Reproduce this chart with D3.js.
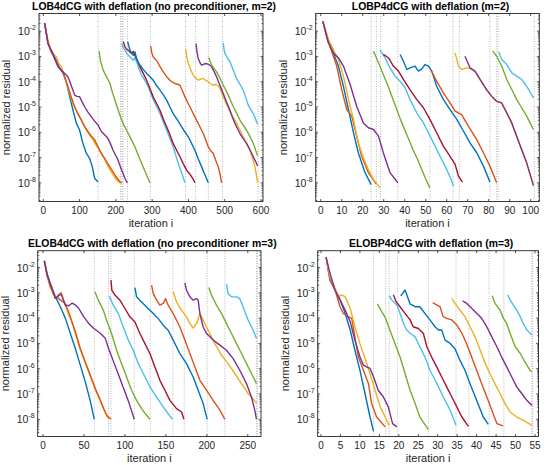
<!DOCTYPE html>
<html><head><meta charset="utf-8">
<script src="https://cdn.jsdelivr.net/npm/d3@7"></script>
<style>
body{margin:0;background:#fff;}
svg{display:block;font-family:"Liberation Sans",Arial,Helvetica,sans-serif;}
</style></head><body>
<svg id="chart" width="547" height="465"></svg>
<script>
// ---------------- DATA ----------------
// Each curve: list of [iteration, log10(normalized residual)]
const titles = [
  "LOB4dCG with deflation (no preconditioner, m=2)",
  "LOBP4dCG with deflation (m=2)",
  "ELOB4dCG with deflation (no preconditioner m=3)",
  "ELOBP4dCG with deflation (m=3)"
];
const xLabel = "iteration i";
const yLabel = "normalized residual";
const yTickExponents = [-8, -7, -6, -5, -4, -3, -2];
const xTicksA = [0, 100, 200, 300, 400, 500, 600];
const xTicksB = [0, 10, 20, 30, 40, 50, 60, 70, 80, 90, 100];
const xTicksC = [0, 50, 100, 150, 200, 250];
const xTicksD = [0, 5, 10, 15, 20, 25, 30, 35, 40, 45, 50, 55];

// Panel A: LOB4dCG
const curvesA = [
  [[3.7,-1.70],[12.9,-2.42],[22,-2.82],[35.8,-3.14],[45,-3.47],[54,-3.65],[63.4,-4.0],[72.6,-4.59],[81.8,-5.12],[91,-5.64],[100,-5.91],[109,-6.43],[118.5,-6.83],[127.7,-7.03],[135,-7.36],[141.5,-7.82],[150.7,-7.97]],
  [[3.7,-1.70],[12.9,-2.36],[20,-2.70],[26.6,-2.88],[35.8,-3.01],[42,-3.25],[49.6,-3.41],[56,-3.68],[63.4,-4.0],[72,-4.45],[81.8,-4.86],[90,-5.10],[100,-5.38],[110,-5.68],[118.5,-5.91],[128,-6.12],[137,-6.30],[144,-6.48],[151,-6.63],[158,-6.80],[165,-6.96],[172,-7.15],[178.6,-7.36],[185,-7.52],[192.4,-7.68],[200,-7.85],[207,-7.95],[213,-8.0]],
  [[3.7,-1.70],[12.9,-2.49],[20,-2.75],[26.6,-2.95],[33,-3.15],[40.4,-3.34],[47,-3.50],[54.2,-3.61],[61,-3.90],[68,-4.20],[77,-4.60],[86.4,-4.99],[95,-5.27],[104.7,-5.51],[114,-5.78],[123,-5.97],[132,-6.15],[141.5,-6.30],[148,-6.50],[155.3,-6.70],[162,-6.88],[169,-7.03],[176,-7.20],[183,-7.36],[190,-7.52],[196.7,-7.68],[205,-7.85],[211,-7.95],[216.8,-8.0]],
  [[3.7,-1.67],[12.9,-2.49],[20,-2.70],[26.6,-2.88],[33,-3.15],[40.4,-3.41],[47,-3.50],[54.2,-3.61],[61,-3.70],[68,-3.80],[77,-4.15],[86.4,-4.53],[93,-4.58],[100,-4.59],[107,-4.80],[114,-4.99],[123,-5.20],[132.3,-5.38],[141,-5.55],[150.7,-5.71],[160,-5.97],[169,-6.10],[178,-6.24],[185,-6.45],[192,-6.70],[199,-6.90],[205.8,-7.09],[212,-7.35],[219.6,-7.62],[226,-7.85],[231.5,-8.0]],
  [[153.4,-2.78],[158,-3.2],[165,-3.54],[174,-3.80],[183.8,-4.07],[190,-4.40],[197.5,-4.73],[207,-5.15],[216,-5.52],[225,-5.80],[234.3,-6.05],[243,-6.30],[252.7,-6.58],[262,-6.92],[271,-7.23],[282,-7.60],[288,-7.80],[294,-8.0]],
  [[216,-2.49],[220,-2.65],[225,-2.75],[230,-2.88],[234.3,-2.95],[241,-3.05],[248,-3.15],[253,-3.05],[258,-3.25],[264,-3.50],[271,-3.74],[280,-3.95],[289.4,-4.20],[298,-4.52],[307.8,-4.86],[315,-5.05],[321.6,-5.26],[331,-5.60],[340,-5.92],[349,-6.25],[358,-6.58],[365,-6.90],[372,-7.23],[380,-7.55],[386,-7.80],[390.5,-8.0]],
  [[220.5,-2.42],[225,-2.62],[230,-2.72],[234,-2.75],[240,-2.85],[243.5,-2.88],[248,-2.80],[252,-2.95],[257,-3.08],[262,-3.25],[266.4,-3.41],[275,-3.65],[284.8,-3.94],[294,-4.28],[303,-4.6],[312,-4.85],[321.6,-5.13],[330,-5.45],[340,-5.78],[349,-6.10],[358,-6.44],[367,-6.70],[376.7,-6.97],[386,-7.25],[395,-7.5],[402,-7.62],[408.8,-7.76],[414,-7.88],[418,-8.0]],
  [[232.5,-2.42],[236,-2.60],[239,-2.75],[244,-2.88],[248,-2.95],[252.7,-2.82],[257,-3.08],[262,-3.25],[266.4,-3.34],[275,-3.50],[284.8,-3.67],[294,-3.80],[303,-3.94],[312,-4.15],[321.6,-4.33],[331,-4.52],[340,-4.73],[349,-5.00],[358,-5.26],[370,-5.52],[381,-5.78],[390,-5.98],[399.7,-6.18],[409,-6.45],[418,-6.71],[427,-7.05],[436.4,-7.37],[446,-7.70],[454.8,-8.0]],
  [[295.8,-2.58],[299,-2.85],[303,-3.02],[308,-3.10],[312,-3.15],[321,-3.38],[330.8,-3.61],[340,-3.80],[349,-3.94],[356,-4.02],[362.9,-4.07],[370,-4.10],[376.7,-4.14],[383,-4.35],[390.5,-4.60],[400,-4.88],[408.8,-5.13],[418,-5.40],[427,-5.65],[434,-5.85],[441,-6.05],[448,-6.32],[454.8,-6.58],[461,-6.72],[468.6,-6.84],[475,-7.10],[482.4,-7.37],[487,-7.65],[491.6,-8.0]],
  [[392.3,-2.73],[396,-3.05],[399.7,-3.28],[406,-3.52],[413.4,-3.74],[420,-3.85],[427,-3.94],[434,-3.90],[441,-3.87],[448,-3.95],[454.8,-4.0],[461,-4.08],[468.6,-4.14],[476,-4.10],[481,-4.15],[487,-4.27],[493,-4.50],[500,-4.73],[507,-4.95],[514.5,-5.19],[524,-5.42],[533,-5.65],[542,-5.92],[551,-6.18],[560,-6.45],[569.4,-6.71],[576,-7.0],[583.4,-7.37],[587,-7.65],[590.8,-8.0]],
  [[420.8,-2.49],[424,-2.85],[427,-3.08],[432,-3.25],[436.4,-3.34],[443,-3.30],[450,-3.28],[457,-3.32],[464,-3.41],[471,-3.60],[477.8,-3.81],[487,-4.14],[496,-4.47],[505,-4.80],[514.5,-5.13],[521,-5.40],[528.3,-5.65],[535,-5.85],[542,-6.05],[551,-6.25],[560.5,-6.44],[570,-6.70],[578.8,-6.97],[585,-7.15],[590.8,-7.33]],
  [[456.6,-3.04],[460,-3.20],[464,-3.34],[471,-3.48],[477.8,-3.61],[485,-3.80],[491.5,-4.0],[500,-4.25],[510,-4.53],[517,-4.76],[523.7,-4.99],[533,-5.25],[542,-5.52],[551,-5.72],[560.5,-5.92],[570,-6.18],[578.8,-6.44],[585,-6.70],[590.8,-6.92]],
  [[496,-2.45],[498,-2.70],[500.7,-2.88],[507,-3.05],[514.5,-3.21],[519,-3.38],[523.7,-3.54],[530,-3.78],[537.5,-4.0],[544,-4.15],[551,-4.33],[558,-4.62],[565,-4.93],[572,-5.10],[578.8,-5.26],[585,-5.48],[590.8,-5.68]]
];
const colorKeysA = ["B","Y","O","P","G","C","R","B","O","Y","P","G","C"];
const deflationA = [151, 213, 217, 220, 232, 295, 392, 420, 455, 494, 592];

// Panel B: LOBP4dCG
const curvesB = [
  [[1,-1.60],[3.7,-2.46],[6,-2.86],[8.4,-3.38],[10.8,-4.18],[13.2,-5.10],[15.6,-6.02],[17.9,-6.81],[21.1,-7.60],[24,-8.07]],
  [[1,-1.60],[2.9,-2.26],[5.2,-2.79],[7.6,-3.38],[10,-4.31],[12.4,-5.10],[14.8,-5.36],[17.1,-6.15],[19.5,-6.95],[22.7,-7.60],[26.3,-8.04]],
  [[1,-1.60],[3.7,-2.33],[6,-2.73],[8.4,-3.12],[10.8,-3.78],[13.2,-4.70],[15.6,-5.49],[17.9,-6.42],[20.3,-7.01],[22.7,-7.47],[25.1,-7.87],[28.3,-8.2]],
  [[1,-1.60],[3.7,-2.46],[6,-2.86],[8.4,-3.05],[10.8,-3.38],[14,-4.11],[17.1,-4.97],[20.3,-5.63],[22.7,-5.82],[25.1,-5.89],[27.5,-6.15],[29.8,-6.81],[33,-7.60],[36.7,-8.0]],
  [[25.1,-2.79],[26.5,-3.05],[28,-3.35],[30,-3.75],[32,-4.15],[34,-4.60],[36,-5.05],[38,-5.50],[40,-5.90],[42,-6.30],[44,-6.70],[46,-7.05],[48,-7.45],[50,-7.85],[52,-8.2]],
  [[28.3,-2.75],[30.6,-3.05],[33,-3.45],[35.4,-3.78],[37.8,-3.98],[40.2,-4.24],[42.5,-4.70],[45.7,-5.23],[48.9,-5.63],[51.3,-6.02],[53.7,-6.42],[56.8,-6.95],[60,-7.47],[62.4,-7.93],[63.2,-8.13]],
  [[29.8,-2.92],[32.2,-3.05],[34.6,-3.38],[37,-3.58],[39.4,-3.91],[42.5,-4.31],[45.7,-4.70],[48.9,-5.03],[52,-5.49],[55.2,-6.02],[58.4,-6.55],[61.6,-6.95],[64,-7.27],[65.6,-7.74],[67.5,-7.97]],
  [[37.8,-2.92],[39.4,-3.19],[41,-3.52],[42.5,-3.45],[44.9,-3.38],[46.5,-3.58],[48,-3.50],[49.7,-3.32],[51.3,-3.38],[52.9,-3.58],[55.2,-4.18],[58.4,-4.70],[61.6,-5.10],[64.8,-5.49],[68,-5.96],[71.1,-6.42],[74.3,-6.81],[77.5,-7.34],[80.6,-7.97]],
  [[52.5,-3.54],[55.2,-3.98],[58.4,-4.44],[61.6,-4.84],[64,-5.16],[67.1,-5.30],[70.3,-5.76],[74.3,-6.29],[77.5,-6.81],[80.6,-7.34],[83.8,-8.0]],
  [[64,-2.86],[65.6,-3.38],[67.1,-3.52],[69.5,-3.45],[71.1,-3.47],[73.5,-3.60],[75.9,-3.93],[79,-4.33],[81.4,-4.59],[83.8,-4.79],[86.2,-4.86],[88.6,-5.25],[91,-5.65],[93.3,-6.17],[95.7,-6.70],[98.1,-7.23],[101.3,-8.12]],
  [[68.7,-2.99],[71.1,-3.45],[73.5,-3.58],[75.9,-3.91],[79,-4.31],[81.4,-4.57],[83.8,-4.77],[86.2,-4.84],[88.6,-5.23],[91,-5.63],[93.3,-6.15],[95.7,-6.68],[98.1,-7.21],[101.3,-8.1]],
  [[81.9,-2.79],[83.8,-2.99],[86.2,-3.38],[88.6,-3.91],[91,-4.31],[93.3,-4.70],[95.7,-5.03],[98.1,-5.36],[99.7,-5.63],[101.3,-5.89]],
  [[84.8,-2.82],[86.2,-3.12],[88.6,-3.32],[91,-3.65],[93.3,-3.78],[95.7,-3.91],[98.1,-4.18],[101.3,-4.64]]
];
const colorKeysB = ["B","O","Y","P","G","C","R","B","O","Y","P","G","C"];
const deflationB = [24, 26.5, 28.5, 36.7, 52, 63, 66, 80.6, 83.8, 84.5, 101.7];

// Panel C: ELOB4dCG
const curvesC = [
  [[1.6,-1.74],[4.9,-2.22],[8,-2.55],[11,-2.82],[15,-3.15],[21.1,-3.55],[27.2,-4.0],[33.3,-4.60],[39.4,-5.20],[45.5,-5.86],[51.6,-6.52],[57.5,-7.25],[62.6,-8.0]],
  [[1.6,-1.74],[5,-2.35],[9,-2.8],[13,-3.1],[16,-3.2],[19,-3.05],[22,-2.98],[25,-3.25],[28,-3.55],[31,-3.85],[34,-4.05],[39.4,-4.60],[45.5,-5.25],[51.6,-5.78],[57.7,-6.30],[63.8,-6.82],[69.9,-7.28],[74,-7.60],[78,-7.88],[81,-8.0]],
  [[1.6,-1.74],[5,-2.3],[9,-2.75],[12,-2.95],[15,-3.2],[18,-3.2],[22,-3.3],[26,-3.4],[30,-3.65],[33.3,-3.94],[39.4,-4.54],[45.5,-5.20],[51.6,-5.73],[57.7,-6.25],[63.8,-6.78],[69.9,-7.24],[74,-7.57],[78,-7.85],[82.9,-8.0]],
  [[1.6,-1.74],[4.9,-2.29],[11,-2.82],[15,-3.22],[22,-3.04],[27.2,-3.48],[31.3,-3.51],[35.4,-3.41],[39.4,-3.48],[43.5,-3.61],[49.6,-3.94],[55.7,-4.21],[61.8,-4.40],[69.9,-4.60],[76,-4.80],[80,-5.20],[86.2,-5.73],[92.3,-6.25],[98.4,-6.78],[104.5,-7.31],[111.4,-8.0]],
  [[63.4,-2.96],[67.5,-3.29],[73.6,-3.69],[77.6,-4.08],[83.7,-4.61],[89.8,-5.27],[95.9,-5.80],[102,-6.33],[108.1,-6.85],[114.2,-7.25],[120.3,-7.58],[125,-7.78],[130.5,-8.0]],
  [[80.9,-3.13],[85.8,-3.49],[91.9,-3.82],[98,-4.35],[104.1,-4.87],[110.2,-5.27],[116.3,-5.80],[122.4,-6.19],[130.5,-6.72],[138.6,-7.12],[146.7,-7.51],[152.8,-7.78],[158.1,-8.0]],
  [[82.9,-2.50],[84.1,-2.90],[87.8,-3.09],[93.9,-3.29],[100,-3.62],[106.1,-3.95],[112.2,-4.15],[118.3,-4.61],[124.4,-5.01],[130.5,-5.40],[136.6,-5.93],[142.7,-6.46],[148.8,-6.85],[154.9,-7.25],[163,-7.58],[169.1,-7.71],[172,-8.0]],
  [[112.2,-2.79],[114.2,-3.16],[120.3,-3.36],[126.4,-3.56],[134.6,-3.82],[140.7,-4.02],[146.7,-4.28],[152.8,-4.48],[158.9,-4.87],[167.1,-5.40],[175.2,-5.80],[183.3,-6.33],[189.4,-6.85],[195.5,-7.38],[200.4,-8.0]],
  [[132.5,-2.70],[134.6,-3.03],[138.6,-3.29],[142.7,-3.49],[146.7,-3.42],[149.6,-3.23],[152.8,-3.49],[158.9,-3.82],[167.1,-4.35],[173.2,-4.87],[179.3,-5.40],[185.4,-5.93],[191.5,-6.46],[199.6,-6.85],[207.7,-7.25],[215.9,-7.64],[222,-8.0]],
  [[158.9,-2.96],[163,-3.36],[169.1,-3.69],[175.2,-3.95],[179.3,-4.22],[183.3,-4.39],[187.4,-4.22],[191.5,-3.82],[193.5,-3.95],[201.6,-4.48],[209.8,-5.01],[217.9,-5.47],[226,-5.80],[234.1,-6.19],[242.3,-6.59],[250.4,-6.98],[260.6,-7.35]],
  [[173.2,-2.61],[175.2,-2.90],[179.3,-3.16],[183.3,-3.29],[187.4,-3.23],[189.4,-3.29],[191.5,-3.82],[195.5,-4.35],[199.6,-4.61],[207.7,-4.87],[215.9,-5.07],[224,-5.27],[232.1,-5.60],[240.2,-6.06],[248.4,-6.59],[254.5,-7.12],[258.5,-7.64],[260.6,-8.0]],
  [[202.4,-2.79],[205.7,-3.09],[211.8,-3.49],[217.9,-3.82],[224,-4.22],[230.1,-4.61],[236.2,-5.01],[242.3,-5.40],[248.4,-5.80],[254.5,-6.19],[260.6,-6.59]],
  [[224,-2.66],[226,-3.03],[230.1,-3.16],[236.2,-3.16],[240.2,-3.23],[244.3,-3.56],[250.4,-4.08],[256.5,-4.48],[260.6,-4.81]]
];
const colorKeysC = ["B","Y","O","P","G","C","R","B","O","Y","P","G","C"];
const deflationC = [62.6, 80, 83, 111.4, 131, 158.5, 172.4, 200.4, 222, 260.6, 262];

// Panel D: ELOBP4dCG
const curvesD = [
  [[1.3,-1.59],[2.3,-2.49],[3.6,-2.89],[4.9,-3.28],[6.2,-3.81],[7.5,-4.47],[8.7,-5.26],[10,-6.06],[11.3,-6.98],[12.6,-7.91],[13.5,-8.48]],
  [[1.3,-1.59],[2.3,-2.49],[3.6,-2.89],[4.9,-3.55],[5.7,-3.81],[7,-3.94],[7.9,-4.01],[8.7,-4.74],[9.6,-5.53],[10.9,-6.06],[12.2,-6.59],[13,-7.38],[14.3,-7.91],[16.5,-8.30]],
  [[1.3,-1.59],[2.3,-2.36],[3.6,-2.82],[4.5,-3.15],[5.3,-3.08],[6.2,-3.15],[7.5,-3.61],[8.7,-4.34],[10,-5.0],[11.3,-5.59],[12.6,-6.19],[13.9,-6.85],[15.2,-7.51],[16.5,-7.91],[17.5,-8.24]],
  [[1.3,-1.59],[2.3,-2.22],[3.6,-2.89],[4.9,-3.28],[6.2,-3.68],[7.5,-4.14],[8.7,-4.87],[10,-5.53],[10.9,-5.86],[11.7,-5.93],[12.6,-5.99],[13.5,-6.32],[14.7,-6.85],[16,-7.11],[17.3,-7.51],[18.4,-8.17],[19.5,-8.30]],
  [[14.5,-3.44],[15.6,-3.74],[16.5,-3.97],[17.7,-4.47],[19,-5.0],[20.3,-5.53],[21.6,-6.19],[22.9,-6.85],[24.2,-7.38],[25.4,-7.91],[27.6,-8.41]],
  [[17.5,-3.11],[18.2,-3.28],[19.5,-3.48],[20.3,-3.81],[21.2,-4.21],[22,-4.47],[22.9,-4.60],[24.2,-4.74],[25.4,-5.13],[26.7,-5.53],[28,-6.06],[29.8,-6.59],[31.4,-7.11],[33.2,-7.64],[34.7,-8.24]],
  [[18.6,-3.08],[19.3,-3.35],[20.3,-3.55],[21.6,-3.81],[22.9,-4.07],[23.7,-4.34],[25,-4.41],[26.3,-4.60],[27.2,-5.13],[28.4,-5.53],[29.7,-5.92],[31,-6.32],[32.3,-6.72],[33.6,-7.11],[34.9,-7.51],[36.2,-7.91],[37.9,-8.28]],
  [[20.5,-3.12],[21.6,-2.89],[22.9,-3.44],[24.2,-3.55],[25.4,-3.55],[26.7,-3.81],[28,-4.07],[29.3,-4.34],[30.2,-4.47],[31,-4.47],[31.9,-4.87],[33.2,-5.0],[34.4,-5.20],[35.7,-5.66],[37,-6.06],[38.3,-6.59],[40,-7.25],[41.7,-7.91],[43,-8.20]],
  [[28.7,-3.39],[29.7,-3.48],[30.6,-3.55],[31.4,-3.94],[32.3,-4.01],[33.6,-4.07],[34.9,-4.27],[36.2,-4.60],[37.4,-5.0],[38.7,-5.53],[40,-6.06],[41.3,-6.59],[42.6,-7.11],[43.9,-7.64],[45.2,-8.17],[46.8,-8.26]],
  [[33.6,-3.22],[34.4,-3.41],[35.7,-3.68],[37,-3.94],[38.3,-4.34],[39.6,-4.74],[40.9,-5.26],[42.2,-5.79],[43.4,-6.19],[44.7,-6.59],[46,-6.98],[47.3,-7.38],[48.6,-7.71],[50.3,-7.91],[52,-8.04],[54.2,-8.24]],
  [[36.4,-3.32],[37.4,-3.41],[38.7,-3.61],[40,-3.81],[41.3,-4.01],[42.6,-4.34],[43.9,-4.74],[45.2,-5.13],[46.4,-5.53],[47.7,-5.92],[49,-6.32],[50.3,-6.72],[51.6,-6.98],[52.9,-7.25],[54.2,-7.45]],
  [[44,-3.12],[44.7,-3.41],[46,-3.68],[46.9,-4.01],[47.7,-4.21],[48.6,-4.60],[49.9,-5.13],[51.2,-5.40],[52.4,-5.73],[53.7,-6.06],[54.2,-6.12]],
  [[48,-3.08],[48.6,-3.28],[49.4,-3.48],[50.3,-3.68],[51.2,-3.94],[52,-4.21],[52.9,-4.47],[54.2,-4.67]]
];
const colorKeysD = ["B","O","Y","P","G","C","R","B","O","Y","P","G","C"];
const deflationD = [13.5, 16.6, 17.5, 19.7, 27.6, 34.7, 38, 43.2, 47, 54.2, 54.4];

// ---------------- STYLE / LAYOUT ----------------
const palette = {B:"#0072BD", O:"#D95319", Y:"#EDB120", P:"#7E2F8E", G:"#77AC30", C:"#4DBEEE", R:"#A2142F"};
const axisColor = "#262626";

const panels = [
  {title: titles[0], curves: curvesA, keys: colorKeysA, defl: deflationA, xticks: xTicksA,
   box: {x0: 39, x1: 263, y0: 13.5, y1: 201.5}, xdom: [-11.85, 605.6], ydom: [-8.74, -1.30]},
  {title: titles[1], curves: curvesB, keys: colorKeysB, defl: deflationB, xticks: xTicksB,
   box: {x0: 315.7, x1: 539.3, y0: 13.5, y1: 201.5}, xdom: [-2.4, 104.1], ydom: [-8.74, -1.30]},
  {title: titles[2], curves: curvesC, keys: colorKeysC, defl: deflationC, xticks: xTicksC,
   box: {x0: 37.7, x1: 261, y0: 250.7, y1: 436.5}, xdom: [-6.5, 266.1], ydom: [-8.68, -1.335]},
  {title: titles[3], curves: curvesD, keys: colorKeysD, defl: deflationD, xticks: xTicksD,
   box: {x0: 317.7, x1: 538.5, y0: 250.7, y1: 436.5}, xdom: [-0.85, 55.9], ydom: [-8.68, -1.335]}
];

const svg = d3.select("#chart");

panels.forEach((p, pi) => {
  const b = p.box;
  const x = d3.scaleLinear().domain(p.xdom).range([b.x0, b.x1]);
  const y = d3.scaleLog().domain([Math.pow(10, p.ydom[0]), Math.pow(10, p.ydom[1])]).range([b.y1, b.y0]);
  const g = svg.append("g");
  const clipId = "clip" + pi;
  g.append("clipPath").attr("id", clipId).append("rect")
    .attr("x", b.x0).attr("y", b.y0).attr("width", b.x1 - b.x0).attr("height", b.y1 - b.y0);

  // deflation markers
  g.append("g").selectAll("line").data(p.defl).join("line")
    .attr("x1", d => x(d)).attr("x2", d => x(d))
    .attr("y1", b.y0).attr("y2", b.y1)
    .attr("stroke", "#9a9a9a").attr("stroke-width", 0.7)
    .attr("stroke-dasharray", "1,1.5");

  // curves
  const line = d3.line().x(d => x(d[0])).y(d => y(Math.pow(10, d[1]))).curve(d3.curveLinear);
  g.append("g").attr("clip-path", `url(#${clipId})`)
    .selectAll("path").data(p.curves).join("path")
    .attr("d", line)
    .attr("fill", "none")
    .attr("stroke", (d, i) => palette[p.keys[i]])
    .attr("stroke-width", 1.4)
    .attr("stroke-linejoin", "round");

  // frame
  g.append("rect").attr("x", b.x0).attr("y", b.y0)
    .attr("width", b.x1 - b.x0).attr("height", b.y1 - b.y0)
    .attr("fill", "none").attr("stroke", axisColor).attr("stroke-width", 0.9);

  // x axis ticks (inward, bottom and top) + labels
  const xt = g.append("g");
  p.xticks.forEach(t => {
    const px = x(t);
    xt.append("line").attr("x1", px).attr("x2", px).attr("y1", b.y1).attr("y2", b.y1 - 2.5)
      .attr("stroke", axisColor).attr("stroke-width", 0.8);
    xt.append("line").attr("x1", px).attr("x2", px).attr("y1", b.y0).attr("y2", b.y0 + 2.5)
      .attr("stroke", axisColor).attr("stroke-width", 0.8);
    xt.append("text").attr("x", px).attr("y", b.y1 + 12)
      .attr("text-anchor", "middle").attr("font-size", 10).attr("fill", axisColor).text(t);
  });

  // y axis: major + minor ticks
  const yt = g.append("g");
  const lo = Math.floor(p.ydom[0]), hi = Math.ceil(p.ydom[1]);
  for (let e = lo; e <= hi; e++) {
    for (let m = 1; m <= 9; m++) {
      const v = m * Math.pow(10, e);
      const lv = Math.log10(v);
      if (lv < p.ydom[0] || lv > p.ydom[1]) continue;
      const py = y(v);
      const len = m === 1 ? 2.5 : 1.5;
      yt.append("line").attr("x1", b.x0).attr("x2", b.x0 + len).attr("y1", py).attr("y2", py)
        .attr("stroke", axisColor).attr("stroke-width", 0.7);
      yt.append("line").attr("x1", b.x1).attr("x2", b.x1 - len).attr("y1", py).attr("y2", py)
        .attr("stroke", axisColor).attr("stroke-width", 0.7);
    }
  }
  yTickExponents.forEach(e => {
    const py = y(Math.pow(10, e));
    const t = yt.append("text").attr("x", b.x0 - 3).attr("y", py + 4)
      .attr("text-anchor", "end").attr("fill", axisColor);
    t.append("tspan").attr("font-size", 10.5).text("10");
    t.append("tspan").attr("font-size", 7).attr("dy", -5).text(String(e));
  });

  // labels
  g.append("text").attr("x", (b.x0 + b.x1) / 2).attr("y", b.y1 + 25)
    .attr("text-anchor", "middle").attr("font-size", 11).attr("fill", axisColor).text(xLabel);
  g.append("text")
    .attr("transform", `translate(${b.x0 - 29},${(b.y0 + b.y1) / 2}) rotate(-90)`)
    .attr("text-anchor", "middle").attr("font-size", 11).attr("fill", axisColor).text(yLabel);
  g.append("text").attr("x", (b.x0 + b.x1) / 2 + 3).attr("y", b.y0 - 4)
    .attr("text-anchor", "middle").attr("font-size", 10.4).attr("font-weight", "bold")
    .attr("fill", "#000").text(p.title);
});
</script>
</body></html>
